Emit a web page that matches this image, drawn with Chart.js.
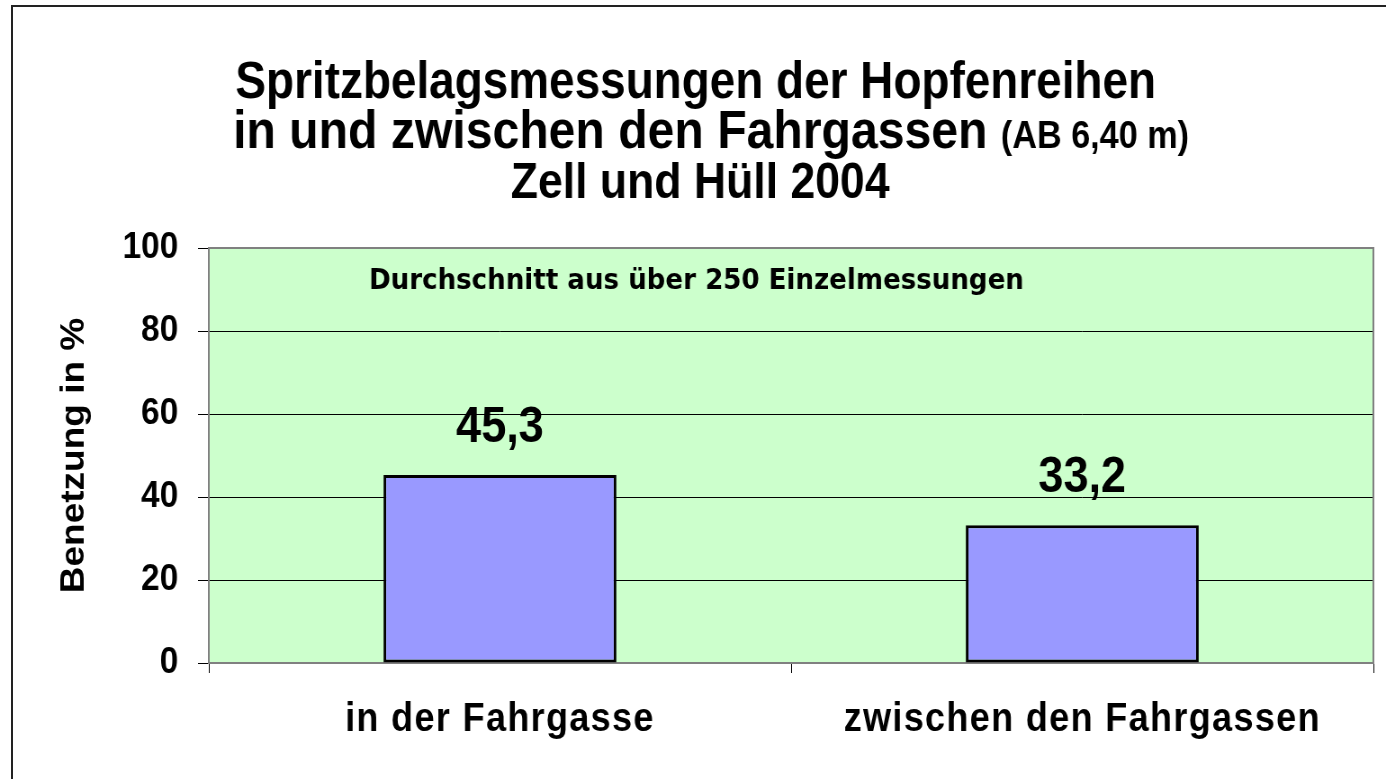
<!DOCTYPE html>
<html><head><meta charset="utf-8">
<script src="https://cdn.jsdelivr.net/npm/chart.js@4"></script>
<style>
html,body{margin:0;padding:0;background:#fff;overflow:hidden;width:1386px;height:779px;}
#frame{position:absolute;left:11px;top:5px;width:2000px;height:2000px;border-left:2px solid #222;border-top:2px solid #222;box-sizing:border-box;}
#wrap{position:absolute;left:0;top:0;width:1540px;height:779px;transform:scaleX(0.9);transform-origin:0 0;}
</style></head><body>
<div id="frame"></div>
<div id="wrap"><canvas id="c"></canvas></div>
<script>
// ---- data ----
const categories = ['in der Fahrgasse', 'zwischen den Fahrgassen'];
const values = [45.3, 33.2];
const yTicks = [0, 20, 40, 60, 80, 100];
const titleLine1 = 'Spritzbelagsmessungen der Hopfenreihen';
const titleLine2Main = 'in und zwischen den Fahrgassen ';
const titleLine2Small = '(AB 6,40 m)';
const titleLine3 = 'Zell und Hüll 2004';
const yAxisTitle = 'Benetzung in %';
const noteText = 'Durchschnitt aus über 250 Einzelmessungen';

const FF = '"Liberation Sans", Arial, Helvetica, sans-serif';
const fmt = v => v.toFixed(1).replace('.', ',');

const plotBox = {
  id: 'plotBox',
  beforeDraw(chart) {
    const {ctx, chartArea: a} = chart;
    ctx.save();
    ctx.fillStyle = '#CCFFCC';
    ctx.fillRect(a.left, a.top, a.right - a.left, a.bottom - a.top);
    ctx.restore();
    const xs = chart.scales.x;
    if (!xs._lsPatched) {
      const orig = xs.drawLabels.bind(xs);
      xs.drawLabels = function(area) {
        const c = this.ctx;
        c.save();
        c.letterSpacing = '1.5px';
        orig(area);
        c.restore();
      };
      xs._lsPatched = true;
    }
  },
  beforeDatasetsDraw(chart) {
    const {ctx, chartArea: a} = chart;
    ctx.save();
    ctx.strokeStyle = '#808080';
    ctx.lineWidth = 2;
    ctx.strokeRect(a.left, a.top, a.right - a.left, a.bottom - a.top);
    ctx.restore();
  },
  afterDatasetsDraw(chart) {
    const {ctx, chartArea: a} = chart;
    const meta = chart.getDatasetMeta(0);
    ctx.save();
    ctx.fillStyle = '#000';
    ctx.font = 'bold 50px ' + FF;
    ctx.textAlign = 'center';
    ctx.textBaseline = 'alphabetic';
    meta.data.forEach((bar, i) => {
      ctx.fillText(fmt(values[i]), bar.x, bar.y - 33);
    });
    ctx.font = 'bold 29px "DejaVu Sans", Verdana, sans-serif';
    ctx.textAlign = 'left';
    ctx.fillText(noteText, a.left + 178, 289);
    ctx.restore();
  },
  afterDraw(chart) {
    const ctx = chart.ctx;
    ctx.save();
    ctx.fillStyle = '#000';
    ctx.textBaseline = 'alphabetic';
    ctx.textAlign = 'center';
    ctx.font = 'bold 51px ' + FF;
    ctx.fillText(titleLine1, 773, 98);
    ctx.font = 'bold 49.5px ' + FF;
    ctx.fillText(titleLine3, 778, 198);
    // line 2 with mixed font sizes
    ctx.textAlign = 'left';
    ctx.font = 'bold 53.5px ' + FF;
    const w1 = ctx.measureText(titleLine2Main).width;
    ctx.font = 'bold 38px ' + FF;
    const w2 = ctx.measureText(titleLine2Small).width;
    const x0 = 790 - (w1 + w2) / 2;
    ctx.font = 'bold 53.5px ' + FF;
    ctx.fillText(titleLine2Main, x0, 148);
    ctx.font = 'bold 38px ' + FF;
    ctx.fillText(titleLine2Small, x0 + w1, 148);
    ctx.restore();
  }
};

new Chart(document.getElementById('c'), {
  type: 'bar',
  data: {
    labels: categories,
    datasets: [{
      data: values,
      backgroundColor: '#9999FF',
      borderColor: '#000',
      borderWidth: 3,
      borderSkipped: false,
      categoryPercentage: 1.0,
      barPercentage: 0.4
    }]
  },
  options: {
    responsive: true,
    maintainAspectRatio: false,
    animation: false,
    layout: {padding: {top: 248, right: 14, bottom: 0, left: 0}},
    plugins: {legend: {display: false}, tooltip: {enabled: false}, title: {display: false}},
    scales: {
      x: {
        grid: {display: true, drawOnChartArea: false, drawTicks: true, tickLength: 10, color: '#000', offset: true},
        border: {display: false},
        ticks: {color: '#000', font: {family: FF, size: 40, weight: 'bold'}, padding: 23, maxRotation: 0, autoSkip: false},
        afterFit(s) { s.height = 116; }
      },
      y: {
        min: 0, max: 100,
        afterBuildTicks(s) { s.ticks = yTicks.map(v => ({value: v})); },
        grid: {color: '#000', lineWidth: 1, tickLength: 12, drawTicks: true},
        border: {display: false},
        ticks: {color: '#000', font: {family: FF, size: 37, weight: 'bold'}, padding: 22},
        title: {display: true, text: yAxisTitle, color: '#000', font: {family: FF, size: 37, weight: 'bold'}, padding: {top: 61, bottom: 0}},
        afterFit(s) { s.width = 232; }
      }
    }
  },
  plugins: [plotBox]
});
</script>
</body></html>
